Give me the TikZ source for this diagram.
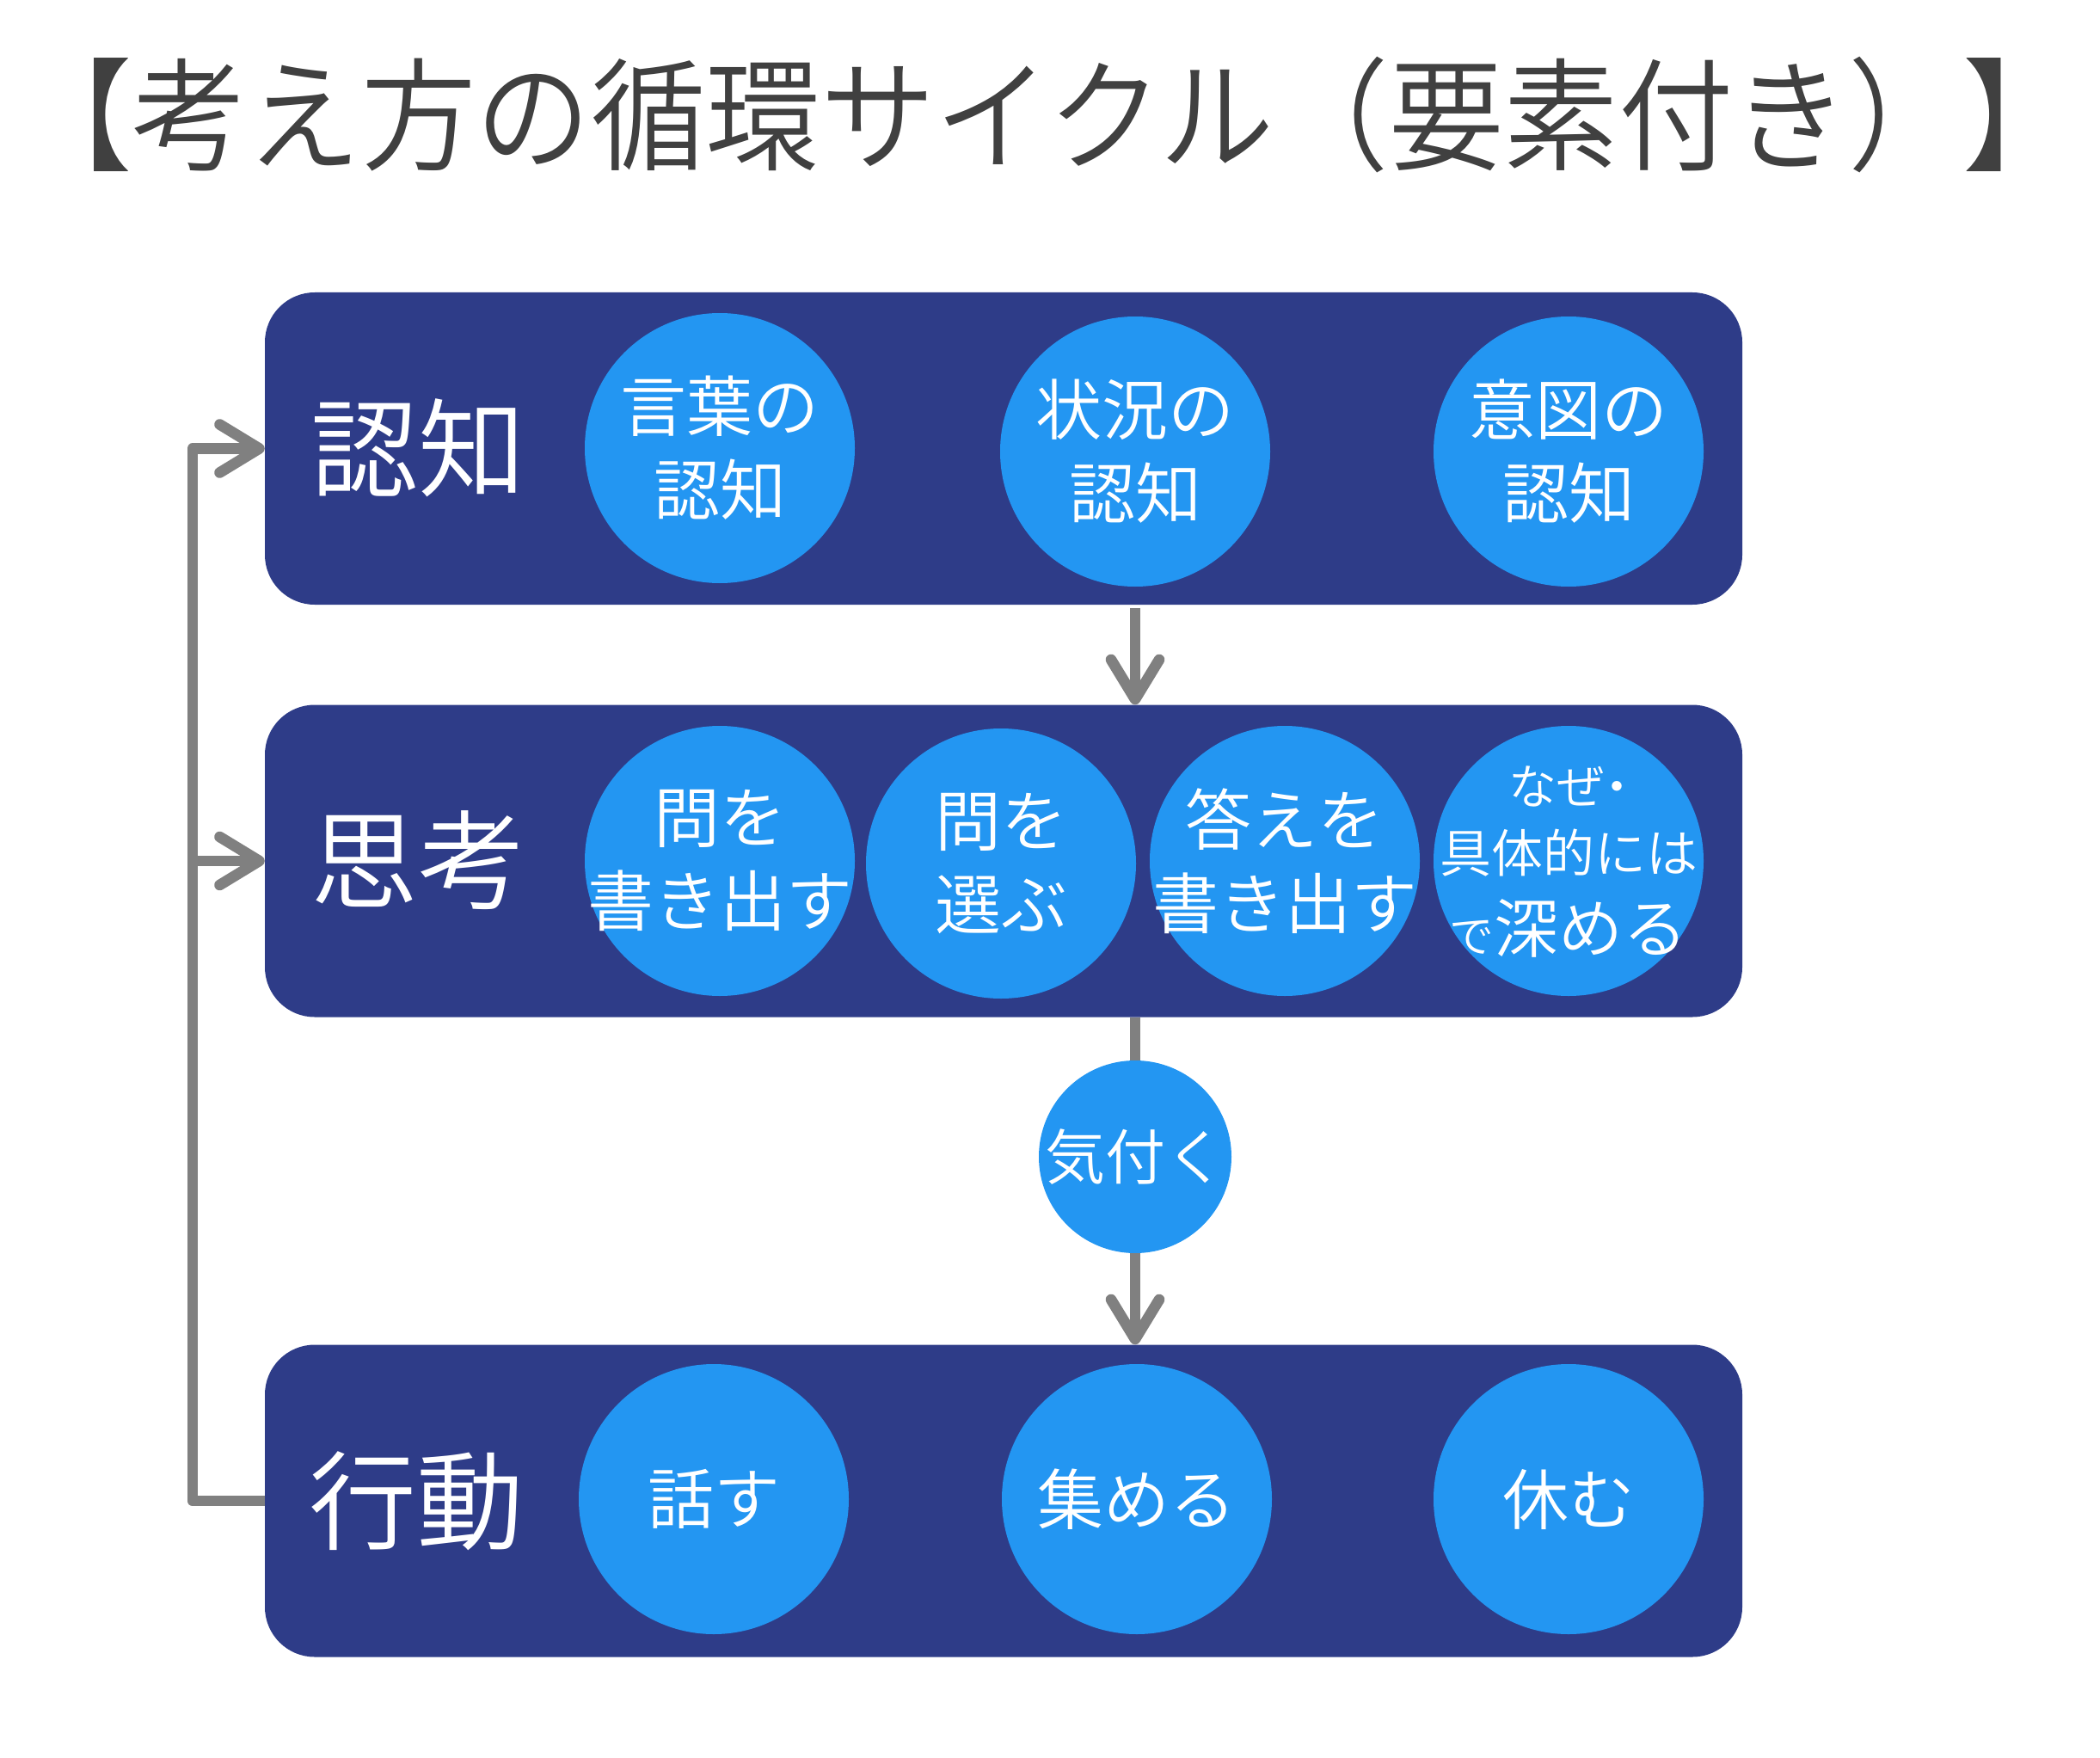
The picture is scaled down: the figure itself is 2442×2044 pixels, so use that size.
\documentclass[tikz,border=0pt]{standalone}
\usepackage{fontspec}
\usepackage{graphicx}
\setmainfont{Noto Sans CJK JP}[UprightFont={* DemiLight}]
\usetikzlibrary{arrows.meta}
\definecolor{navy}{RGB}{46,60,136}
\definecolor{sky}{RGB}{35,150,242}
\definecolor{arrowgray}{RGB}{128,128,128}
\definecolor{titlegray}{RGB}{64,64,64}
\begin{document}
\begin{tikzpicture}[x=1pt,y=-1pt,
 band/.style={fill=navy, rounded corners=58pt, minimum width=1718pt, minimum height=363pt, inner sep=0pt, draw=none},
 bandlabel/.style={text=white, font=\fontsize{125}{125}\selectfont, inner sep=0pt},
 dot/.style={circle, fill=sky, minimum size=314pt, inner sep=0pt},
 smalldot/.style={circle, fill=sky, minimum size=224pt, inner sep=0pt},
 ctext/.style={text=white, align=center, font=\fontsize{77}{97}\selectfont, inner sep=0pt},
 flow/.style={draw=arrowgray, line width=12.6pt, line join=round, -{Straight Barb[length=46pt,width=56pt,round]}},
 plainline/.style={draw=arrowgray, line width=12.6pt}
]
\useasboundingbox[fill=white] (0,0) rectangle (2442,2044);

% title
\node[text=titlegray, inner sep=0pt] (title) at (1218,134)
  {\scalebox{0.94}[1]{\fontsize{142}{142}\selectfont 【考え方の循環サイクル（要素付き）】}};

% bands
\node[band] (b1) at (1167,521.5) {};
\node[band] (b2) at (1167,1001) {};
\node[band] (b3) at (1167,1745) {};

\node[bandlabel] (l1) at (486,521) {認知};
\node[bandlabel] (l2) at (486,1000) {思考};
\node[bandlabel] (l3) at (484,1745) {行動};

% row 1
\node[dot, label={[ctext]center:言葉の\\認知}] (c11) at (837,521) {};
\node[dot, label={[ctext]center:状況の\\認知}] (c12) at (1320,525) {};
\node[dot, label={[ctext]center:意図の\\認知}] (c13) at (1824,525) {};

% row 2
\node[dot, label={[ctext]center:問を\\書き出す}] (c21) at (837,1001) {};
\node[dot, label={[ctext]center:問を\\選ぶ}] (c22) at (1164,1004) {};
\node[dot, label={[ctext]center:答えを\\書き出す}] (c23) at (1494,1001) {};
\node[dot] (c24) at (1824,1001) {};
\node[ctext, font=\fontsize{56}{56}\selectfont] (t241) at ([yshift=87pt]c24.center) {なぜ\kern-0.25em・\kern-0.25em};
\node[ctext, font=\fontsize{60}{60}\selectfont] (t242) at ([yshift=9pt]c24.center) {具体的には};
\node[ctext] (t243) at ([yshift=-78pt]c24.center) {{\fontsize{52}{52}\selectfont で}{\fontsize{75}{75}\selectfont 深める}};

% row 3
\node[dot, label={[ctext]center:話す}] (c31) at (830,1743) {};
\node[dot, label={[ctext]center:集める}] (c32) at (1322,1743) {};
\node[dot, label={[ctext]center:休む}] (c33) at (1824,1743) {};

% notice
\node[smalldot, label={[ctext, font=\fontsize{70}{70}\selectfont]center:気付く}] (k) at (1320,1345) {};

% connectors
\draw[flow, shorten <=4pt] (k |- b1.south) -- (k |- b2.north);
\draw[plainline] (k |- b2.south) -- (k.north);
\draw[flow] (k.south) -- (k |- b3.north);

\coordinate (fb) at (224,1745);
\draw[flow] (b3.west) -- (fb) |- (b1.west);
\draw[flow] (fb |- b2.west) -- (b2.west);
\end{tikzpicture}
\end{document}
